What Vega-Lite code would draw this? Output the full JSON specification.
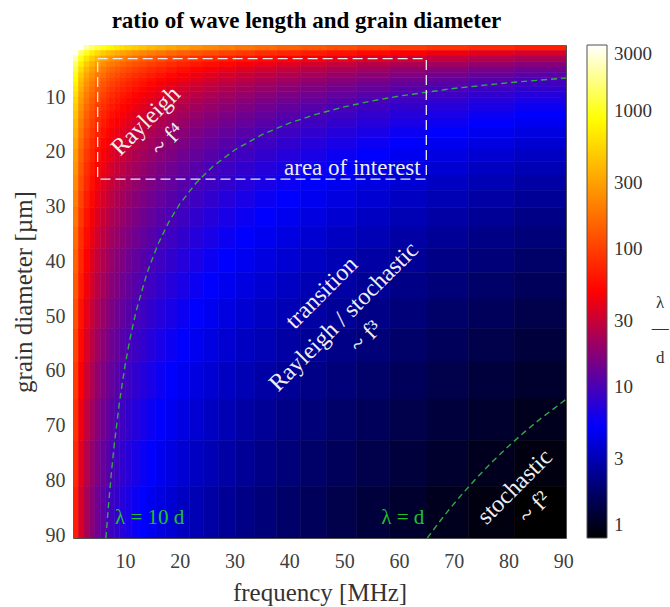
{
"$schema": "https://vega.github.io/schema/vega-lite/v6.json",
"autosize": {"type": "none"},
"width": 493, "height": 493,
"padding": {"left": 73, "top": 45, "right": 104, "bottom": 69},
"background": "white",
"title": {"text": "ratio of wave length and grain diameter", "font": "Liberation Serif", "fontSize": 23, "fontWeight": "bold", "color": "#000000", "anchor": "middle", "offset": 12, "dx": -13},
"datasets": {
"edges": [
{"k":0,"lo":0.5,"hi":1.5},{"k":1,"lo":1.5,"hi":2.5},{"k":2,"lo":2.5,"hi":3.5},{"k":3,"lo":3.5,"hi":4.5},{"k":4,"lo":4.5,"hi":5.5},{"k":5,"lo":5.5,"hi":6.5},
{"k":6,"lo":6.5,"hi":7.25},{"k":7,"lo":7.25,"hi":8.1},{"k":8,"lo":8.1,"hi":9.03},{"k":9,"lo":9.03,"hi":10.08},{"k":10,"lo":10.08,"hi":11.25},{"k":11,"lo":11.25,"hi":12.56},
{"k":12,"lo":12.56,"hi":14.01},{"k":13,"lo":14.01,"hi":15.64},{"k":14,"lo":15.64,"hi":17.45},{"k":15,"lo":17.45,"hi":19.48},{"k":16,"lo":19.48,"hi":21.73},{"k":17,"lo":21.73,"hi":24.25},
{"k":18,"lo":24.25,"hi":27.07},{"k":19,"lo":27.07,"hi":30.21},{"k":20,"lo":30.21,"hi":33.71},{"k":21,"lo":33.71,"hi":37.62},{"k":22,"lo":37.62,"hi":41.98},{"k":23,"lo":41.98,"hi":46.85},
{"k":24,"lo":46.85,"hi":52.28},{"k":25,"lo":52.28,"hi":58.35},{"k":26,"lo":58.35,"hi":65.12},{"k":27,"lo":65.12,"hi":72.67},{"k":28,"lo":72.67,"hi":81.1},{"k":29,"lo":81.1,"hi":90.5}
],
"grid": [
{"i":0,"j":0,"v":5900},{"i":0,"j":1,"v":2950},{"i":0,"j":2,"v":1967},{"i":0,"j":3,"v":1475},{"i":0,"j":4,"v":1180},{"i":0,"j":5,"v":983},{"i":0,"j":6,"v":859},{"i":0,"j":7,"v":770},{"i":0,"j":8,"v":690},{"i":0,"j":9,"v":618},{"i":0,"j":10,"v":554},{"i":0,"j":11,"v":496},{"i":0,"j":12,"v":445},{"i":0,"j":13,"v":399},{"i":0,"j":14,"v":357},{"i":0,"j":15,"v":320},{"i":0,"j":16,"v":287},{"i":0,"j":17,"v":257},{"i":0,"j":18,"v":230},{"i":0,"j":19,"v":206},{"i":0,"j":20,"v":185},{"i":0,"j":21,"v":166},{"i":0,"j":22,"v":148},{"i":0,"j":23,"v":133},{"i":0,"j":24,"v":119},{"i":0,"j":25,"v":107},{"i":0,"j":26,"v":95.7},{"i":0,"j":27,"v":85.8},{"i":0,"j":28,"v":76.9},{"i":0,"j":29,"v":68.9},
{"i":1,"j":0,"v":2950},{"i":1,"j":1,"v":1475},{"i":1,"j":2,"v":983},{"i":1,"j":3,"v":738},{"i":1,"j":4,"v":590},{"i":1,"j":5,"v":492},{"i":1,"j":6,"v":430},{"i":1,"j":7,"v":385},{"i":1,"j":8,"v":345},{"i":1,"j":9,"v":309},{"i":1,"j":10,"v":277},{"i":1,"j":11,"v":248},{"i":1,"j":12,"v":222},{"i":1,"j":13,"v":199},{"i":1,"j":14,"v":179},{"i":1,"j":15,"v":160},{"i":1,"j":16,"v":143},{"i":1,"j":17,"v":128},{"i":1,"j":18,"v":115},{"i":1,"j":19,"v":103},{"i":1,"j":20,"v":92.4},{"i":1,"j":21,"v":82.8},{"i":1,"j":22,"v":74.2},{"i":1,"j":23,"v":66.5},{"i":1,"j":24,"v":59.6},{"i":1,"j":25,"v":53.4},{"i":1,"j":26,"v":47.9},{"i":1,"j":27,"v":42.9},{"i":1,"j":28,"v":38.4},{"i":1,"j":29,"v":34.4},
{"i":2,"j":0,"v":1967},{"i":2,"j":1,"v":983},{"i":2,"j":2,"v":656},{"i":2,"j":3,"v":492},{"i":2,"j":4,"v":393},{"i":2,"j":5,"v":328},{"i":2,"j":6,"v":286},{"i":2,"j":7,"v":257},{"i":2,"j":8,"v":230},{"i":2,"j":9,"v":206},{"i":2,"j":10,"v":185},{"i":2,"j":11,"v":166},{"i":2,"j":12,"v":148},{"i":2,"j":13,"v":133},{"i":2,"j":14,"v":119},{"i":2,"j":15,"v":107},{"i":2,"j":16,"v":95.6},{"i":2,"j":17,"v":85.7},{"i":2,"j":18,"v":76.8},{"i":2,"j":19,"v":68.8},{"i":2,"j":20,"v":61.6},{"i":2,"j":21,"v":55.2},{"i":2,"j":22,"v":49.5},{"i":2,"j":23,"v":44.3},{"i":2,"j":24,"v":39.7},{"i":2,"j":25,"v":35.6},{"i":2,"j":26,"v":31.9},{"i":2,"j":27,"v":28.6},{"i":2,"j":28,"v":25.6},{"i":2,"j":29,"v":23},
{"i":3,"j":0,"v":1475},{"i":3,"j":1,"v":738},{"i":3,"j":2,"v":492},{"i":3,"j":3,"v":369},{"i":3,"j":4,"v":295},{"i":3,"j":5,"v":246},{"i":3,"j":6,"v":215},{"i":3,"j":7,"v":193},{"i":3,"j":8,"v":173},{"i":3,"j":9,"v":155},{"i":3,"j":10,"v":139},{"i":3,"j":11,"v":124},{"i":3,"j":12,"v":111},{"i":3,"j":13,"v":99.7},{"i":3,"j":14,"v":89.3},{"i":3,"j":15,"v":80},{"i":3,"j":16,"v":71.7},{"i":3,"j":17,"v":64.3},{"i":3,"j":18,"v":57.6},{"i":3,"j":19,"v":51.6},{"i":3,"j":20,"v":46.2},{"i":3,"j":21,"v":41.4},{"i":3,"j":22,"v":37.1},{"i":3,"j":23,"v":33.3},{"i":3,"j":24,"v":29.8},{"i":3,"j":25,"v":26.7},{"i":3,"j":26,"v":23.9},{"i":3,"j":27,"v":21.4},{"i":3,"j":28,"v":19.2},{"i":3,"j":29,"v":17.2},
{"i":4,"j":0,"v":1180},{"i":4,"j":1,"v":590},{"i":4,"j":2,"v":393},{"i":4,"j":3,"v":295},{"i":4,"j":4,"v":236},{"i":4,"j":5,"v":197},{"i":4,"j":6,"v":172},{"i":4,"j":7,"v":154},{"i":4,"j":8,"v":138},{"i":4,"j":9,"v":124},{"i":4,"j":10,"v":111},{"i":4,"j":11,"v":99.3},{"i":4,"j":12,"v":89},{"i":4,"j":13,"v":79.7},{"i":4,"j":14,"v":71.4},{"i":4,"j":15,"v":64},{"i":4,"j":16,"v":57.4},{"i":4,"j":17,"v":51.4},{"i":4,"j":18,"v":46.1},{"i":4,"j":19,"v":41.3},{"i":4,"j":20,"v":37},{"i":4,"j":21,"v":33.1},{"i":4,"j":22,"v":29.7},{"i":4,"j":23,"v":26.6},{"i":4,"j":24,"v":23.8},{"i":4,"j":25,"v":21.4},{"i":4,"j":26,"v":19.1},{"i":4,"j":27,"v":17.2},{"i":4,"j":28,"v":15.4},{"i":4,"j":29,"v":13.8},
{"i":5,"j":0,"v":983},{"i":5,"j":1,"v":492},{"i":5,"j":2,"v":328},{"i":5,"j":3,"v":246},{"i":5,"j":4,"v":197},{"i":5,"j":5,"v":164},{"i":5,"j":6,"v":143},{"i":5,"j":7,"v":128},{"i":5,"j":8,"v":115},{"i":5,"j":9,"v":103},{"i":5,"j":10,"v":92.3},{"i":5,"j":11,"v":82.7},{"i":5,"j":12,"v":74.1},{"i":5,"j":13,"v":66.4},{"i":5,"j":14,"v":59.5},{"i":5,"j":15,"v":53.3},{"i":5,"j":16,"v":47.8},{"i":5,"j":17,"v":42.8},{"i":5,"j":18,"v":38.4},{"i":5,"j":19,"v":34.4},{"i":5,"j":20,"v":30.8},{"i":5,"j":21,"v":27.6},{"i":5,"j":22,"v":24.7},{"i":5,"j":23,"v":22.2},{"i":5,"j":24,"v":19.9},{"i":5,"j":25,"v":17.8},{"i":5,"j":26,"v":16},{"i":5,"j":27,"v":14.3},{"i":5,"j":28,"v":12.8},{"i":5,"j":29,"v":11.5},
{"i":6,"j":0,"v":859},{"i":6,"j":1,"v":430},{"i":6,"j":2,"v":286},{"i":6,"j":3,"v":215},{"i":6,"j":4,"v":172},{"i":6,"j":5,"v":143},{"i":6,"j":6,"v":125},{"i":6,"j":7,"v":112},{"i":6,"j":8,"v":100},{"i":6,"j":9,"v":90},{"i":6,"j":10,"v":80.7},{"i":6,"j":11,"v":72.3},{"i":6,"j":12,"v":64.8},{"i":6,"j":13,"v":58},{"i":6,"j":14,"v":52},{"i":6,"j":15,"v":46.6},{"i":6,"j":16,"v":41.8},{"i":6,"j":17,"v":37.4},{"i":6,"j":18,"v":33.5},{"i":6,"j":19,"v":30},{"i":6,"j":20,"v":26.9},{"i":6,"j":21,"v":24.1},{"i":6,"j":22,"v":21.6},{"i":6,"j":23,"v":19.4},{"i":6,"j":24,"v":17.4},{"i":6,"j":25,"v":15.6},{"i":6,"j":26,"v":13.9},{"i":6,"j":27,"v":12.5},{"i":6,"j":28,"v":11.2},{"i":6,"j":29,"v":10},
{"i":7,"j":0,"v":770},{"i":7,"j":1,"v":385},{"i":7,"j":2,"v":257},{"i":7,"j":3,"v":193},{"i":7,"j":4,"v":154},{"i":7,"j":5,"v":128},{"i":7,"j":6,"v":112},{"i":7,"j":7,"v":100},{"i":7,"j":8,"v":90},{"i":7,"j":9,"v":80.7},{"i":7,"j":10,"v":72.3},{"i":7,"j":11,"v":64.8},{"i":7,"j":12,"v":58},{"i":7,"j":13,"v":52},{"i":7,"j":14,"v":46.6},{"i":7,"j":15,"v":41.8},{"i":7,"j":16,"v":37.4},{"i":7,"j":17,"v":33.5},{"i":7,"j":18,"v":30},{"i":7,"j":19,"v":26.9},{"i":7,"j":20,"v":24.1},{"i":7,"j":21,"v":21.6},{"i":7,"j":22,"v":19.4},{"i":7,"j":23,"v":17.4},{"i":7,"j":24,"v":15.6},{"i":7,"j":25,"v":13.9},{"i":7,"j":26,"v":12.5},{"i":7,"j":27,"v":11.2},{"i":7,"j":28,"v":10},{"i":7,"j":29,"v":8.99},
{"i":8,"j":0,"v":690},{"i":8,"j":1,"v":345},{"i":8,"j":2,"v":230},{"i":8,"j":3,"v":173},{"i":8,"j":4,"v":138},{"i":8,"j":5,"v":115},{"i":8,"j":6,"v":100},{"i":8,"j":7,"v":90},{"i":8,"j":8,"v":80.7},{"i":8,"j":9,"v":72.3},{"i":8,"j":10,"v":64.8},{"i":8,"j":11,"v":58},{"i":8,"j":12,"v":52},{"i":8,"j":13,"v":46.6},{"i":8,"j":14,"v":41.8},{"i":8,"j":15,"v":37.4},{"i":8,"j":16,"v":33.5},{"i":8,"j":17,"v":30},{"i":8,"j":18,"v":26.9},{"i":8,"j":19,"v":24.1},{"i":8,"j":20,"v":21.6},{"i":8,"j":21,"v":19.4},{"i":8,"j":22,"v":17.4},{"i":8,"j":23,"v":15.6},{"i":8,"j":24,"v":13.9},{"i":8,"j":25,"v":12.5},{"i":8,"j":26,"v":11.2},{"i":8,"j":27,"v":10},{"i":8,"j":28,"v":8.99},{"i":8,"j":29,"v":8.05},
{"i":9,"j":0,"v":618},{"i":9,"j":1,"v":309},{"i":9,"j":2,"v":206},{"i":9,"j":3,"v":155},{"i":9,"j":4,"v":124},{"i":9,"j":5,"v":103},{"i":9,"j":6,"v":90},{"i":9,"j":7,"v":80.7},{"i":9,"j":8,"v":72.3},{"i":9,"j":9,"v":64.8},{"i":9,"j":10,"v":58},{"i":9,"j":11,"v":52},{"i":9,"j":12,"v":46.6},{"i":9,"j":13,"v":41.8},{"i":9,"j":14,"v":37.4},{"i":9,"j":15,"v":33.5},{"i":9,"j":16,"v":30},{"i":9,"j":17,"v":26.9},{"i":9,"j":18,"v":24.1},{"i":9,"j":19,"v":21.6},{"i":9,"j":20,"v":19.4},{"i":9,"j":21,"v":17.4},{"i":9,"j":22,"v":15.6},{"i":9,"j":23,"v":13.9},{"i":9,"j":24,"v":12.5},{"i":9,"j":25,"v":11.2},{"i":9,"j":26,"v":10},{"i":9,"j":27,"v":8.99},{"i":9,"j":28,"v":8.05},{"i":9,"j":29,"v":7.22},
{"i":10,"j":0,"v":554},{"i":10,"j":1,"v":277},{"i":10,"j":2,"v":185},{"i":10,"j":3,"v":139},{"i":10,"j":4,"v":111},{"i":10,"j":5,"v":92.3},{"i":10,"j":6,"v":80.7},{"i":10,"j":7,"v":72.3},{"i":10,"j":8,"v":64.8},{"i":10,"j":9,"v":58},{"i":10,"j":10,"v":52},{"i":10,"j":11,"v":46.6},{"i":10,"j":12,"v":41.8},{"i":10,"j":13,"v":37.4},{"i":10,"j":14,"v":33.5},{"i":10,"j":15,"v":30},{"i":10,"j":16,"v":26.9},{"i":10,"j":17,"v":24.1},{"i":10,"j":18,"v":21.6},{"i":10,"j":19,"v":19.4},{"i":10,"j":20,"v":17.4},{"i":10,"j":21,"v":15.6},{"i":10,"j":22,"v":13.9},{"i":10,"j":23,"v":12.5},{"i":10,"j":24,"v":11.2},{"i":10,"j":25,"v":10},{"i":10,"j":26,"v":8.99},{"i":10,"j":27,"v":8.05},{"i":10,"j":28,"v":7.22},{"i":10,"j":29,"v":6.47},
{"i":11,"j":0,"v":496},{"i":11,"j":1,"v":248},{"i":11,"j":2,"v":166},{"i":11,"j":3,"v":124},{"i":11,"j":4,"v":99.3},{"i":11,"j":5,"v":82.7},{"i":11,"j":6,"v":72.3},{"i":11,"j":7,"v":64.8},{"i":11,"j":8,"v":58},{"i":11,"j":9,"v":52},{"i":11,"j":10,"v":46.6},{"i":11,"j":11,"v":41.8},{"i":11,"j":12,"v":37.4},{"i":11,"j":13,"v":33.5},{"i":11,"j":14,"v":30},{"i":11,"j":15,"v":26.9},{"i":11,"j":16,"v":24.1},{"i":11,"j":17,"v":21.6},{"i":11,"j":18,"v":19.4},{"i":11,"j":19,"v":17.4},{"i":11,"j":20,"v":15.6},{"i":11,"j":21,"v":13.9},{"i":11,"j":22,"v":12.5},{"i":11,"j":23,"v":11.2},{"i":11,"j":24,"v":10},{"i":11,"j":25,"v":8.99},{"i":11,"j":26,"v":8.05},{"i":11,"j":27,"v":7.22},{"i":11,"j":28,"v":6.47},{"i":11,"j":29,"v":5.79},
{"i":12,"j":0,"v":445},{"i":12,"j":1,"v":222},{"i":12,"j":2,"v":148},{"i":12,"j":3,"v":111},{"i":12,"j":4,"v":89},{"i":12,"j":5,"v":74.1},{"i":12,"j":6,"v":64.8},{"i":12,"j":7,"v":58},{"i":12,"j":8,"v":52},{"i":12,"j":9,"v":46.6},{"i":12,"j":10,"v":41.8},{"i":12,"j":11,"v":37.4},{"i":12,"j":12,"v":33.5},{"i":12,"j":13,"v":30},{"i":12,"j":14,"v":26.9},{"i":12,"j":15,"v":24.1},{"i":12,"j":16,"v":21.6},{"i":12,"j":17,"v":19.4},{"i":12,"j":18,"v":17.4},{"i":12,"j":19,"v":15.6},{"i":12,"j":20,"v":13.9},{"i":12,"j":21,"v":12.5},{"i":12,"j":22,"v":11.2},{"i":12,"j":23,"v":10},{"i":12,"j":24,"v":8.99},{"i":12,"j":25,"v":8.05},{"i":12,"j":26,"v":7.22},{"i":12,"j":27,"v":6.47},{"i":12,"j":28,"v":5.79},{"i":12,"j":29,"v":5.19},
{"i":13,"j":0,"v":399},{"i":13,"j":1,"v":199},{"i":13,"j":2,"v":133},{"i":13,"j":3,"v":99.7},{"i":13,"j":4,"v":79.7},{"i":13,"j":5,"v":66.4},{"i":13,"j":6,"v":58},{"i":13,"j":7,"v":52},{"i":13,"j":8,"v":46.6},{"i":13,"j":9,"v":41.8},{"i":13,"j":10,"v":37.4},{"i":13,"j":11,"v":33.5},{"i":13,"j":12,"v":30},{"i":13,"j":13,"v":26.9},{"i":13,"j":14,"v":24.1},{"i":13,"j":15,"v":21.6},{"i":13,"j":16,"v":19.4},{"i":13,"j":17,"v":17.4},{"i":13,"j":18,"v":15.6},{"i":13,"j":19,"v":13.9},{"i":13,"j":20,"v":12.5},{"i":13,"j":21,"v":11.2},{"i":13,"j":22,"v":10},{"i":13,"j":23,"v":8.99},{"i":13,"j":24,"v":8.05},{"i":13,"j":25,"v":7.22},{"i":13,"j":26,"v":6.47},{"i":13,"j":27,"v":5.79},{"i":13,"j":28,"v":5.19},{"i":13,"j":29,"v":4.65},
{"i":14,"j":0,"v":357},{"i":14,"j":1,"v":179},{"i":14,"j":2,"v":119},{"i":14,"j":3,"v":89.3},{"i":14,"j":4,"v":71.4},{"i":14,"j":5,"v":59.5},{"i":14,"j":6,"v":52},{"i":14,"j":7,"v":46.6},{"i":14,"j":8,"v":41.8},{"i":14,"j":9,"v":37.4},{"i":14,"j":10,"v":33.5},{"i":14,"j":11,"v":30},{"i":14,"j":12,"v":26.9},{"i":14,"j":13,"v":24.1},{"i":14,"j":14,"v":21.6},{"i":14,"j":15,"v":19.4},{"i":14,"j":16,"v":17.4},{"i":14,"j":17,"v":15.6},{"i":14,"j":18,"v":13.9},{"i":14,"j":19,"v":12.5},{"i":14,"j":20,"v":11.2},{"i":14,"j":21,"v":10},{"i":14,"j":22,"v":8.99},{"i":14,"j":23,"v":8.05},{"i":14,"j":24,"v":7.22},{"i":14,"j":25,"v":6.47},{"i":14,"j":26,"v":5.79},{"i":14,"j":27,"v":5.19},{"i":14,"j":28,"v":4.65},{"i":14,"j":29,"v":4.17},
{"i":15,"j":0,"v":320},{"i":15,"j":1,"v":160},{"i":15,"j":2,"v":107},{"i":15,"j":3,"v":80},{"i":15,"j":4,"v":64},{"i":15,"j":5,"v":53.3},{"i":15,"j":6,"v":46.6},{"i":15,"j":7,"v":41.8},{"i":15,"j":8,"v":37.4},{"i":15,"j":9,"v":33.5},{"i":15,"j":10,"v":30},{"i":15,"j":11,"v":26.9},{"i":15,"j":12,"v":24.1},{"i":15,"j":13,"v":21.6},{"i":15,"j":14,"v":19.4},{"i":15,"j":15,"v":17.4},{"i":15,"j":16,"v":15.6},{"i":15,"j":17,"v":13.9},{"i":15,"j":18,"v":12.5},{"i":15,"j":19,"v":11.2},{"i":15,"j":20,"v":10},{"i":15,"j":21,"v":8.99},{"i":15,"j":22,"v":8.05},{"i":15,"j":23,"v":7.22},{"i":15,"j":24,"v":6.47},{"i":15,"j":25,"v":5.79},{"i":15,"j":26,"v":5.19},{"i":15,"j":27,"v":4.65},{"i":15,"j":28,"v":4.17},{"i":15,"j":29,"v":3.74},
{"i":16,"j":0,"v":287},{"i":16,"j":1,"v":143},{"i":16,"j":2,"v":95.6},{"i":16,"j":3,"v":71.7},{"i":16,"j":4,"v":57.4},{"i":16,"j":5,"v":47.8},{"i":16,"j":6,"v":41.8},{"i":16,"j":7,"v":37.4},{"i":16,"j":8,"v":33.5},{"i":16,"j":9,"v":30},{"i":16,"j":10,"v":26.9},{"i":16,"j":11,"v":24.1},{"i":16,"j":12,"v":21.6},{"i":16,"j":13,"v":19.4},{"i":16,"j":14,"v":17.4},{"i":16,"j":15,"v":15.6},{"i":16,"j":16,"v":13.9},{"i":16,"j":17,"v":12.5},{"i":16,"j":18,"v":11.2},{"i":16,"j":19,"v":10},{"i":16,"j":20,"v":8.99},{"i":16,"j":21,"v":8.05},{"i":16,"j":22,"v":7.22},{"i":16,"j":23,"v":6.47},{"i":16,"j":24,"v":5.79},{"i":16,"j":25,"v":5.19},{"i":16,"j":26,"v":4.65},{"i":16,"j":27,"v":4.17},{"i":16,"j":28,"v":3.74},{"i":16,"j":29,"v":3.35},
{"i":17,"j":0,"v":257},{"i":17,"j":1,"v":128},{"i":17,"j":2,"v":85.7},{"i":17,"j":3,"v":64.3},{"i":17,"j":4,"v":51.4},{"i":17,"j":5,"v":42.8},{"i":17,"j":6,"v":37.4},{"i":17,"j":7,"v":33.5},{"i":17,"j":8,"v":30},{"i":17,"j":9,"v":26.9},{"i":17,"j":10,"v":24.1},{"i":17,"j":11,"v":21.6},{"i":17,"j":12,"v":19.4},{"i":17,"j":13,"v":17.4},{"i":17,"j":14,"v":15.6},{"i":17,"j":15,"v":13.9},{"i":17,"j":16,"v":12.5},{"i":17,"j":17,"v":11.2},{"i":17,"j":18,"v":10},{"i":17,"j":19,"v":8.99},{"i":17,"j":20,"v":8.05},{"i":17,"j":21,"v":7.22},{"i":17,"j":22,"v":6.47},{"i":17,"j":23,"v":5.79},{"i":17,"j":24,"v":5.19},{"i":17,"j":25,"v":4.65},{"i":17,"j":26,"v":4.17},{"i":17,"j":27,"v":3.74},{"i":17,"j":28,"v":3.35},{"i":17,"j":29,"v":3},
{"i":18,"j":0,"v":230},{"i":18,"j":1,"v":115},{"i":18,"j":2,"v":76.8},{"i":18,"j":3,"v":57.6},{"i":18,"j":4,"v":46.1},{"i":18,"j":5,"v":38.4},{"i":18,"j":6,"v":33.5},{"i":18,"j":7,"v":30},{"i":18,"j":8,"v":26.9},{"i":18,"j":9,"v":24.1},{"i":18,"j":10,"v":21.6},{"i":18,"j":11,"v":19.4},{"i":18,"j":12,"v":17.4},{"i":18,"j":13,"v":15.6},{"i":18,"j":14,"v":13.9},{"i":18,"j":15,"v":12.5},{"i":18,"j":16,"v":11.2},{"i":18,"j":17,"v":10},{"i":18,"j":18,"v":8.99},{"i":18,"j":19,"v":8.05},{"i":18,"j":20,"v":7.22},{"i":18,"j":21,"v":6.47},{"i":18,"j":22,"v":5.79},{"i":18,"j":23,"v":5.19},{"i":18,"j":24,"v":4.65},{"i":18,"j":25,"v":4.17},{"i":18,"j":26,"v":3.74},{"i":18,"j":27,"v":3.35},{"i":18,"j":28,"v":3},{"i":18,"j":29,"v":2.69},
{"i":19,"j":0,"v":206},{"i":19,"j":1,"v":103},{"i":19,"j":2,"v":68.8},{"i":19,"j":3,"v":51.6},{"i":19,"j":4,"v":41.3},{"i":19,"j":5,"v":34.4},{"i":19,"j":6,"v":30},{"i":19,"j":7,"v":26.9},{"i":19,"j":8,"v":24.1},{"i":19,"j":9,"v":21.6},{"i":19,"j":10,"v":19.4},{"i":19,"j":11,"v":17.4},{"i":19,"j":12,"v":15.6},{"i":19,"j":13,"v":13.9},{"i":19,"j":14,"v":12.5},{"i":19,"j":15,"v":11.2},{"i":19,"j":16,"v":10},{"i":19,"j":17,"v":8.99},{"i":19,"j":18,"v":8.05},{"i":19,"j":19,"v":7.22},{"i":19,"j":20,"v":6.47},{"i":19,"j":21,"v":5.79},{"i":19,"j":22,"v":5.19},{"i":19,"j":23,"v":4.65},{"i":19,"j":24,"v":4.17},{"i":19,"j":25,"v":3.74},{"i":19,"j":26,"v":3.35},{"i":19,"j":27,"v":3},{"i":19,"j":28,"v":2.69},{"i":19,"j":29,"v":2.41},
{"i":20,"j":0,"v":185},{"i":20,"j":1,"v":92.4},{"i":20,"j":2,"v":61.6},{"i":20,"j":3,"v":46.2},{"i":20,"j":4,"v":37},{"i":20,"j":5,"v":30.8},{"i":20,"j":6,"v":26.9},{"i":20,"j":7,"v":24.1},{"i":20,"j":8,"v":21.6},{"i":20,"j":9,"v":19.4},{"i":20,"j":10,"v":17.4},{"i":20,"j":11,"v":15.6},{"i":20,"j":12,"v":13.9},{"i":20,"j":13,"v":12.5},{"i":20,"j":14,"v":11.2},{"i":20,"j":15,"v":10},{"i":20,"j":16,"v":8.99},{"i":20,"j":17,"v":8.05},{"i":20,"j":18,"v":7.22},{"i":20,"j":19,"v":6.47},{"i":20,"j":20,"v":5.79},{"i":20,"j":21,"v":5.19},{"i":20,"j":22,"v":4.65},{"i":20,"j":23,"v":4.17},{"i":20,"j":24,"v":3.74},{"i":20,"j":25,"v":3.35},{"i":20,"j":26,"v":3},{"i":20,"j":27,"v":2.69},{"i":20,"j":28,"v":2.41},{"i":20,"j":29,"v":2.16},
{"i":21,"j":0,"v":166},{"i":21,"j":1,"v":82.8},{"i":21,"j":2,"v":55.2},{"i":21,"j":3,"v":41.4},{"i":21,"j":4,"v":33.1},{"i":21,"j":5,"v":27.6},{"i":21,"j":6,"v":24.1},{"i":21,"j":7,"v":21.6},{"i":21,"j":8,"v":19.4},{"i":21,"j":9,"v":17.4},{"i":21,"j":10,"v":15.6},{"i":21,"j":11,"v":13.9},{"i":21,"j":12,"v":12.5},{"i":21,"j":13,"v":11.2},{"i":21,"j":14,"v":10},{"i":21,"j":15,"v":8.99},{"i":21,"j":16,"v":8.05},{"i":21,"j":17,"v":7.22},{"i":21,"j":18,"v":6.47},{"i":21,"j":19,"v":5.79},{"i":21,"j":20,"v":5.19},{"i":21,"j":21,"v":4.65},{"i":21,"j":22,"v":4.17},{"i":21,"j":23,"v":3.74},{"i":21,"j":24,"v":3.35},{"i":21,"j":25,"v":3},{"i":21,"j":26,"v":2.69},{"i":21,"j":27,"v":2.41},{"i":21,"j":28,"v":2.16},{"i":21,"j":29,"v":1.93},
{"i":22,"j":0,"v":148},{"i":22,"j":1,"v":74.2},{"i":22,"j":2,"v":49.5},{"i":22,"j":3,"v":37.1},{"i":22,"j":4,"v":29.7},{"i":22,"j":5,"v":24.7},{"i":22,"j":6,"v":21.6},{"i":22,"j":7,"v":19.4},{"i":22,"j":8,"v":17.4},{"i":22,"j":9,"v":15.6},{"i":22,"j":10,"v":13.9},{"i":22,"j":11,"v":12.5},{"i":22,"j":12,"v":11.2},{"i":22,"j":13,"v":10},{"i":22,"j":14,"v":8.99},{"i":22,"j":15,"v":8.05},{"i":22,"j":16,"v":7.22},{"i":22,"j":17,"v":6.47},{"i":22,"j":18,"v":5.79},{"i":22,"j":19,"v":5.19},{"i":22,"j":20,"v":4.65},{"i":22,"j":21,"v":4.17},{"i":22,"j":22,"v":3.74},{"i":22,"j":23,"v":3.35},{"i":22,"j":24,"v":3},{"i":22,"j":25,"v":2.69},{"i":22,"j":26,"v":2.41},{"i":22,"j":27,"v":2.16},{"i":22,"j":28,"v":1.93},{"i":22,"j":29,"v":1.73},
{"i":23,"j":0,"v":133},{"i":23,"j":1,"v":66.5},{"i":23,"j":2,"v":44.3},{"i":23,"j":3,"v":33.3},{"i":23,"j":4,"v":26.6},{"i":23,"j":5,"v":22.2},{"i":23,"j":6,"v":19.4},{"i":23,"j":7,"v":17.4},{"i":23,"j":8,"v":15.6},{"i":23,"j":9,"v":13.9},{"i":23,"j":10,"v":12.5},{"i":23,"j":11,"v":11.2},{"i":23,"j":12,"v":10},{"i":23,"j":13,"v":8.99},{"i":23,"j":14,"v":8.05},{"i":23,"j":15,"v":7.22},{"i":23,"j":16,"v":6.47},{"i":23,"j":17,"v":5.79},{"i":23,"j":18,"v":5.19},{"i":23,"j":19,"v":4.65},{"i":23,"j":20,"v":4.17},{"i":23,"j":21,"v":3.74},{"i":23,"j":22,"v":3.35},{"i":23,"j":23,"v":3},{"i":23,"j":24,"v":2.69},{"i":23,"j":25,"v":2.41},{"i":23,"j":26,"v":2.16},{"i":23,"j":27,"v":1.93},{"i":23,"j":28,"v":1.73},{"i":23,"j":29,"v":1.55},
{"i":24,"j":0,"v":119},{"i":24,"j":1,"v":59.6},{"i":24,"j":2,"v":39.7},{"i":24,"j":3,"v":29.8},{"i":24,"j":4,"v":23.8},{"i":24,"j":5,"v":19.9},{"i":24,"j":6,"v":17.4},{"i":24,"j":7,"v":15.6},{"i":24,"j":8,"v":13.9},{"i":24,"j":9,"v":12.5},{"i":24,"j":10,"v":11.2},{"i":24,"j":11,"v":10},{"i":24,"j":12,"v":8.99},{"i":24,"j":13,"v":8.05},{"i":24,"j":14,"v":7.22},{"i":24,"j":15,"v":6.47},{"i":24,"j":16,"v":5.79},{"i":24,"j":17,"v":5.19},{"i":24,"j":18,"v":4.65},{"i":24,"j":19,"v":4.17},{"i":24,"j":20,"v":3.74},{"i":24,"j":21,"v":3.35},{"i":24,"j":22,"v":3},{"i":24,"j":23,"v":2.69},{"i":24,"j":24,"v":2.41},{"i":24,"j":25,"v":2.16},{"i":24,"j":26,"v":1.93},{"i":24,"j":27,"v":1.73},{"i":24,"j":28,"v":1.55},{"i":24,"j":29,"v":1.39},
{"i":25,"j":0,"v":107},{"i":25,"j":1,"v":53.4},{"i":25,"j":2,"v":35.6},{"i":25,"j":3,"v":26.7},{"i":25,"j":4,"v":21.4},{"i":25,"j":5,"v":17.8},{"i":25,"j":6,"v":15.6},{"i":25,"j":7,"v":13.9},{"i":25,"j":8,"v":12.5},{"i":25,"j":9,"v":11.2},{"i":25,"j":10,"v":10},{"i":25,"j":11,"v":8.99},{"i":25,"j":12,"v":8.05},{"i":25,"j":13,"v":7.22},{"i":25,"j":14,"v":6.47},{"i":25,"j":15,"v":5.79},{"i":25,"j":16,"v":5.19},{"i":25,"j":17,"v":4.65},{"i":25,"j":18,"v":4.17},{"i":25,"j":19,"v":3.74},{"i":25,"j":20,"v":3.35},{"i":25,"j":21,"v":3},{"i":25,"j":22,"v":2.69},{"i":25,"j":23,"v":2.41},{"i":25,"j":24,"v":2.16},{"i":25,"j":25,"v":1.93},{"i":25,"j":26,"v":1.73},{"i":25,"j":27,"v":1.55},{"i":25,"j":28,"v":1.39},{"i":25,"j":29,"v":1.25},
{"i":26,"j":0,"v":95.7},{"i":26,"j":1,"v":47.9},{"i":26,"j":2,"v":31.9},{"i":26,"j":3,"v":23.9},{"i":26,"j":4,"v":19.1},{"i":26,"j":5,"v":16},{"i":26,"j":6,"v":13.9},{"i":26,"j":7,"v":12.5},{"i":26,"j":8,"v":11.2},{"i":26,"j":9,"v":10},{"i":26,"j":10,"v":8.99},{"i":26,"j":11,"v":8.05},{"i":26,"j":12,"v":7.22},{"i":26,"j":13,"v":6.47},{"i":26,"j":14,"v":5.79},{"i":26,"j":15,"v":5.19},{"i":26,"j":16,"v":4.65},{"i":26,"j":17,"v":4.17},{"i":26,"j":18,"v":3.74},{"i":26,"j":19,"v":3.35},{"i":26,"j":20,"v":3},{"i":26,"j":21,"v":2.69},{"i":26,"j":22,"v":2.41},{"i":26,"j":23,"v":2.16},{"i":26,"j":24,"v":1.93},{"i":26,"j":25,"v":1.73},{"i":26,"j":26,"v":1.55},{"i":26,"j":27,"v":1.39},{"i":26,"j":28,"v":1.25},{"i":26,"j":29,"v":1.12},
{"i":27,"j":0,"v":85.8},{"i":27,"j":1,"v":42.9},{"i":27,"j":2,"v":28.6},{"i":27,"j":3,"v":21.4},{"i":27,"j":4,"v":17.2},{"i":27,"j":5,"v":14.3},{"i":27,"j":6,"v":12.5},{"i":27,"j":7,"v":11.2},{"i":27,"j":8,"v":10},{"i":27,"j":9,"v":8.99},{"i":27,"j":10,"v":8.05},{"i":27,"j":11,"v":7.22},{"i":27,"j":12,"v":6.47},{"i":27,"j":13,"v":5.79},{"i":27,"j":14,"v":5.19},{"i":27,"j":15,"v":4.65},{"i":27,"j":16,"v":4.17},{"i":27,"j":17,"v":3.74},{"i":27,"j":18,"v":3.35},{"i":27,"j":19,"v":3},{"i":27,"j":20,"v":2.69},{"i":27,"j":21,"v":2.41},{"i":27,"j":22,"v":2.16},{"i":27,"j":23,"v":1.93},{"i":27,"j":24,"v":1.73},{"i":27,"j":25,"v":1.55},{"i":27,"j":26,"v":1.39},{"i":27,"j":27,"v":1.25},{"i":27,"j":28,"v":1.12},{"i":27,"j":29,"v":1},
{"i":28,"j":0,"v":76.9},{"i":28,"j":1,"v":38.4},{"i":28,"j":2,"v":25.6},{"i":28,"j":3,"v":19.2},{"i":28,"j":4,"v":15.4},{"i":28,"j":5,"v":12.8},{"i":28,"j":6,"v":11.2},{"i":28,"j":7,"v":10},{"i":28,"j":8,"v":8.99},{"i":28,"j":9,"v":8.05},{"i":28,"j":10,"v":7.22},{"i":28,"j":11,"v":6.47},{"i":28,"j":12,"v":5.79},{"i":28,"j":13,"v":5.19},{"i":28,"j":14,"v":4.65},{"i":28,"j":15,"v":4.17},{"i":28,"j":16,"v":3.74},{"i":28,"j":17,"v":3.35},{"i":28,"j":18,"v":3},{"i":28,"j":19,"v":2.69},{"i":28,"j":20,"v":2.41},{"i":28,"j":21,"v":2.16},{"i":28,"j":22,"v":1.93},{"i":28,"j":23,"v":1.73},{"i":28,"j":24,"v":1.55},{"i":28,"j":25,"v":1.39},{"i":28,"j":26,"v":1.25},{"i":28,"j":27,"v":1.12},{"i":28,"j":28,"v":1},{"i":28,"j":29,"v":0.897},
{"i":29,"j":0,"v":68.9},{"i":29,"j":1,"v":34.4},{"i":29,"j":2,"v":23},{"i":29,"j":3,"v":17.2},{"i":29,"j":4,"v":13.8},{"i":29,"j":5,"v":11.5},{"i":29,"j":6,"v":10},{"i":29,"j":7,"v":8.99},{"i":29,"j":8,"v":8.05},{"i":29,"j":9,"v":7.22},{"i":29,"j":10,"v":6.47},{"i":29,"j":11,"v":5.79},{"i":29,"j":12,"v":5.19},{"i":29,"j":13,"v":4.65},{"i":29,"j":14,"v":4.17},{"i":29,"j":15,"v":3.74},{"i":29,"j":16,"v":3.35},{"i":29,"j":17,"v":3},{"i":29,"j":18,"v":2.69},{"i":29,"j":19,"v":2.41},{"i":29,"j":20,"v":2.16},{"i":29,"j":21,"v":1.93},{"i":29,"j":22,"v":1.73},{"i":29,"j":23,"v":1.55},{"i":29,"j":24,"v":1.39},{"i":29,"j":25,"v":1.25},{"i":29,"j":26,"v":1.12},{"i":29,"j":27,"v":1},{"i":29,"j":28,"v":0.897},{"i":29,"j":29,"v":0.804}
]
},
"layer": [
{
"data": {"name": "grid"},
"transform": [
{"lookup": "i", "from": {"data": {"name": "edges"}, "key": "k", "fields": ["lo", "hi"]}, "as": ["f0", "f1"]},
{"lookup": "j", "from": {"data": {"name": "edges"}, "key": "k", "fields": ["lo", "hi"]}, "as": ["d0", "d1"]}
],
"mark": {"type": "rect", "clip": true, "strokeWidth": 0.6, "stroke": {"expr": "scale('color', datum.v)"}},
"encoding": {
"x": {"field": "f0", "type": "quantitative", "scale": {"domain": [0.5, 90.5], "nice": false, "zero": false}, "axis": {"orient": "bottom", "values": [10,20,30,40,50,60,70,80,90], "title": "frequency [MHz]", "labelPadding": 18, "titlePadding": 9}},
"x2": {"field": "f1"},
"y": {"field": "d0", "type": "quantitative", "scale": {"domain": [0.5, 90.5], "nice": false, "zero": false, "reverse": true}, "axis": {"orient": "left", "values": [10,20,30,40,50,60,70,80,90], "title": "grain diameter [µm]", "labelPadding": 13, "titlePadding": 9}},
"y2": {"field": "d1"},
"color": {"field": "v", "type": "quantitative",
 "scale": {"type": "log", "domain": [0.8, 5.2, 49, 873, 3000], "range": ["#000000", "#0000ff", "#ff0000", "#ffff00", "#ffffff"], "clamp": true, "interpolate": "rgb"},
 "legend": {"type": "gradient", "title": null, "values": [1,3,10,30,100,300,1000,3000], "format": "d", "orient": "right", "direction": "vertical", "gradientLength": 493, "gradientThickness": 20, "gradientStrokeColor": "#505050", "gradientStrokeWidth": 1, "labelFont": "Liberation Serif", "labelFontSize": 19, "labelColor": "#333333", "labelOffset": 7, "labelOverlap": false, "labelBaseline": "middle", "offset": 20}}
}
},
{
"data": {"values": [
{"c":"a","f":6.52,"d":90.5},{"c":"a","f":6.8,"d":86.76},{"c":"a","f":7,"d":84.29},{"c":"a","f":7.5,"d":78.67},{"c":"a","f":8,"d":73.75},{"c":"a","f":9,"d":65.56},{"c":"a","f":10,"d":59},{"c":"a","f":11,"d":53.64},{"c":"a","f":12,"d":49.17},{"c":"a","f":14,"d":42.14},{"c":"a","f":16,"d":36.88},{"c":"a","f":18,"d":32.78},{"c":"a","f":20,"d":29.5},{"c":"a","f":23,"d":25.65},{"c":"a","f":26,"d":22.69},{"c":"a","f":30,"d":19.67},{"c":"a","f":35,"d":16.86},{"c":"a","f":40,"d":14.75},{"c":"a","f":45,"d":13.11},{"c":"a","f":50,"d":11.8},{"c":"a","f":55,"d":10.73},{"c":"a","f":60,"d":9.83},{"c":"a","f":70,"d":8.43},{"c":"a","f":80,"d":7.38},{"c":"a","f":90.5,"d":6.52},
{"c":"b","f":65.19,"d":90.5},{"c":"b","f":67,"d":88.06},{"c":"b","f":69,"d":85.51},{"c":"b","f":71,"d":83.1},{"c":"b","f":74,"d":79.73},{"c":"b","f":77,"d":76.62},{"c":"b","f":80,"d":73.75},{"c":"b","f":83,"d":71.08},{"c":"b","f":86,"d":68.6},{"c":"b","f":90.5,"d":65.19}
]},
"mark": {"type": "line", "clip": true, "color": "#33a846", "strokeWidth": 1.4, "strokeDash": [6, 4]},
"encoding": {
"x": {"field": "f", "type": "quantitative", "scale": {"domain": [0.5, 90.5], "nice": false, "zero": false}, "axis": {"orient": "top", "values": [10,20,30,40,50,60,70,80,90], "labels": false, "title": null}},
"y": {"field": "d", "type": "quantitative", "scale": {"domain": [0.5, 90.5], "nice": false, "zero": false, "reverse": true}, "axis": {"orient": "right", "values": [10,20,30,40,50,60,70,80,90], "labels": false, "title": null}},
"detail": {"field": "c"}
}
},
{
"data": {"values": [{"f0": 5, "f1": 65, "d0": 3, "d1": 25}]},
"mark": {"type": "rect", "filled": false, "stroke": "#ececec", "strokeWidth": 1.3, "strokeDash": [10, 5]},
"encoding": {
"x": {"field": "f0", "type": "quantitative", "scale": {"domain": [0.5, 90.5], "nice": false, "zero": false}, "axis": null},
"x2": {"field": "f1"},
"y": {"field": "d0", "type": "quantitative", "scale": {"domain": [0.5, 90.5], "nice": false, "zero": false, "reverse": true}, "axis": null},
"y2": {"field": "d1"}
}
},
{
"data": {"values": [
{"f": 13.8, "d": 14.4, "t": "Rayleigh"},
{"f": 17.8, "d": 17.8, "t": "~ f⁴"},
{"f": 45.95, "d": 45.77, "t": "transition"},
{"f": 49.97, "d": 50.15, "t": "Rayleigh / stochastic"},
{"f": 54.0, "d": 53.8, "t": "~ f³"},
{"f": 81.2, "d": 81.2, "t": "stochastic"},
{"f": 84.8, "d": 85.0, "t": "~ f²"}
]},
"mark": {"type": "text", "angle": 315, "align": "center", "baseline": "middle", "font": "Liberation Serif", "fontSize": 24, "color": "#eeeeee"},
"encoding": {
"x": {"field": "f", "type": "quantitative", "scale": {"domain": [0.5, 90.5], "nice": false, "zero": false}, "axis": null},
"y": {"field": "d", "type": "quantitative", "scale": {"domain": [0.5, 90.5], "nice": false, "zero": false, "reverse": true}, "axis": null},
"text": {"field": "t"}
}
},
{
"data": {"values": [{"f": 51.5, "d": 22.95, "t": "area of interest"}]},
"mark": {"type": "text", "align": "center", "baseline": "middle", "font": "Liberation Serif", "fontSize": 23, "color": "#eeeeee"},
"encoding": {
"x": {"field": "f", "type": "quantitative", "scale": {"domain": [0.5, 90.5], "nice": false, "zero": false}, "axis": null},
"y": {"field": "d", "type": "quantitative", "scale": {"domain": [0.5, 90.5], "nice": false, "zero": false, "reverse": true}, "axis": null},
"text": {"field": "t"}
}
},
{
"data": {"values": [{"f": 14.5, "d": 86.85, "t": "λ = 10 d"}, {"f": 60.7, "d": 86.85, "t": "λ = d"}]},
"mark": {"type": "text", "align": "center", "baseline": "middle", "font": "Liberation Serif", "fontSize": 21, "color": "#22c02a"},
"encoding": {
"x": {"field": "f", "type": "quantitative", "scale": {"domain": [0.5, 90.5], "nice": false, "zero": false}, "axis": null},
"y": {"field": "d", "type": "quantitative", "scale": {"domain": [0.5, 90.5], "nice": false, "zero": false, "reverse": true}, "axis": null},
"text": {"field": "t"}
}
},
{
"data": {"values": [{"f": 107.7, "d": 47.6, "t": "λ"}, {"f": 107.7, "d": 52.2, "t": "—"}, {"f": 107.7, "d": 57.6, "t": "d"}]},
"mark": {"type": "text", "align": "center", "baseline": "middle", "font": "Liberation Serif", "fontSize": 17, "color": "#333333", "clip": false},
"encoding": {
"x": {"field": "f", "type": "quantitative", "scale": {"domain": [0.5, 90.5], "nice": false, "zero": false}, "axis": null},
"y": {"field": "d", "type": "quantitative", "scale": {"domain": [0.5, 90.5], "nice": false, "zero": false, "reverse": true}, "axis": null},
"text": {"field": "t"}
}
}
],
"resolve": {"axis": {"x": "independent", "y": "independent"}},
"config": {
"view": {"stroke": null},
"axis": {"domain": true, "domainColor": "#505050", "domainWidth": 1, "grid": false, "ticks": true, "tickColor": "#505050", "tickSize": -5, "tickWidth": 1, "labelFont": "Liberation Serif", "labelFontSize": 20, "labelColor": "#404040", "titleFont": "Liberation Serif", "titleFontSize": 25, "titleFontWeight": "normal", "titleColor": "#333333", "zindex": 1, "labelOverlap": false, "labelFlush": false}
}
}
